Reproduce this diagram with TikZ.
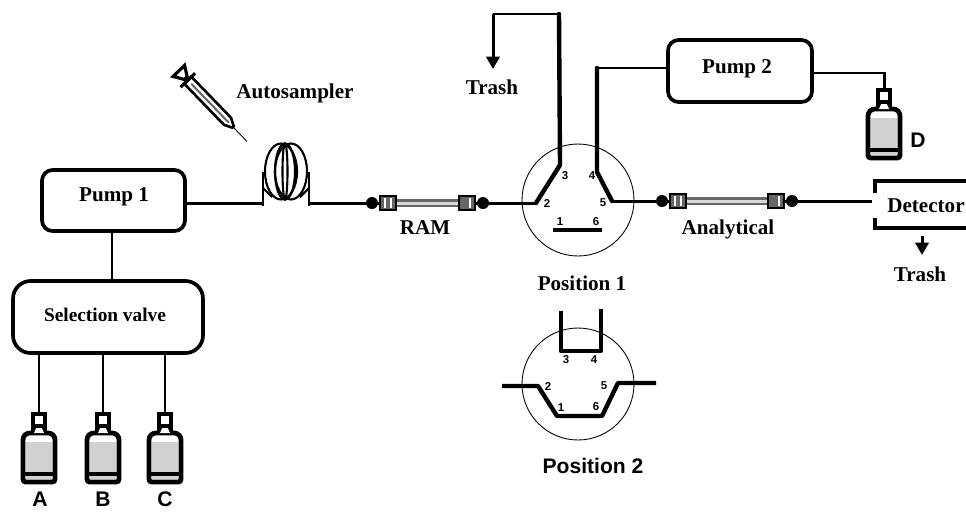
\documentclass[tikz,border=0pt]{standalone}
\usepackage{fontspec}
\setmainfont{Liberation Serif}
\newfontfamily\labelsans{Liberation Sans}
\usetikzlibrary{arrows.meta}
\definecolor{fillgray}{gray}{0.82}
\definecolor{tubegray}{gray}{0.4}
\tikzset{
  pics/bottle/.style={code={
    \fill (-8,14) rectangle (8,21);
    \draw[line width=2.7pt, rounded corners=1.5pt, fill=white] (-16,25) -- (-16,70) -- (16,70) -- (16,25) -- (12,21) -- (-12,21) -- cycle;
    \fill[fillgray] (-13,30) rectangle (13,60);
    \fill (-16,60) rectangle (16,64);
    \fill[fillgray] (-13,64) rectangle (13,67);
    \fill[white] (-2,14) -- (2,14) -- (5,21) -- (-5,21) -- cycle;
    \draw[line width=2.7pt, fill=white] (-6,2) rectangle (6,14);
    \coordinate (-top) at (0,0);
  }},
  pics/column/.style={code={
    \draw[tubegray, line width=4pt] (20,0) -- (#1-20,0);
    \draw[white!85!black, line width=1.7pt] (20,0) -- (#1-20,0);
    \fill (0,0) circle (6);
    \fill (#1,0) circle (6);
    \draw[line width=1.7pt] (0,0) -- (8,0);
    \draw[line width=1.7pt] (#1-8,0) -- (#1,0);
    \draw[line width=.8pt, fill=tubegray] (8,-7) rectangle (24,7);
    \draw[line width=.8pt, fill=tubegray] (#1-24,-7) rectangle (#1-8,7);
    \fill[white] (12,-5) rectangle (14,5);
    \fill[white] (18,-5) rectangle (20,5);
    \fill[white] (#1-14,-5) rectangle (#1-12,5);
    \coordinate (-in) at (0,0);
    \coordinate (-out) at (#1,0);
  }}
}
\begin{document}
\begin{tikzpicture}[x=0.02cm, y=-0.02cm, >={Triangle[length=7pt, width=7.5pt]},
    unit/.style={draw, line width=2.1pt, rounded corners=6pt, inner sep=0pt},
    flow/.style={line width=1.7pt},
    port/.style={line width=2.5pt, line cap=round, line join=round},
    txt/.style={font=\fontsize{12}{14}\selectfont\bfseries},
    sanstxt/.style={font=\fontsize{12}{14}\selectfont\labelsans\bfseries},
    num/.style={font=\fontsize{6.5}{7}\selectfont\labelsans\bfseries, inner sep=0pt}]
  \useasboundingbox (0,0) rectangle (966,511);

  % boxes
  \node[unit, minimum width=2.86cm, minimum height=1.22cm] (pump1) at (113.5,200.5) {};
  \node[unit, rounded corners=10pt, minimum width=3.8cm, minimum height=1.44cm] (selection) at (108,317) {};
  \node[unit, minimum width=2.88cm, minimum height=1.24cm] (pump2) at (740,71) {};
  \node[txt] (pump1text) at (114,197) {Pump 1};
  \node[txt, font=\fontsize{11}{13}\selectfont\bfseries] (selectiontext) at (105,315) {Selection valve};
  \node[txt] (pump2text) at (737,69) {Pump 2};

  % bottles
  \pic (botA) at (39,412) {bottle};
  \pic (botB) at (103,412) {bottle};
  \pic (botC) at (165,412) {bottle};
  \pic (botD) at (884,88) {bottle};
  \node[sanstxt, inner sep=0pt] (labA) at (40,499) {A};
  \node[sanstxt, inner sep=0pt] (labB) at (103,499) {B};
  \node[sanstxt, inner sep=0pt] (labC) at (165,499) {C};
  \node[sanstxt] (labD) at (918,140) {D};
  \draw[flow] (botA-top) -- (botA-top |- selection.south);
  \draw[flow] (botB-top) -- (botB-top |- selection.south);
  \draw[flow] (botC-top) -- (botC-top |- selection.south);
  \draw[flow] (pump1.south -| 112,0) -- (selection.north -| 112,0);

  % coil
  \coordinate (coilin) at (263,203);
  \coordinate (coilout) at (309,203);
  \draw[flow] (pump1.east |- coilin) -- (coilin);
  \draw[line width=1.4pt] (263,206) -- (263,172);
  \draw[line width=1.4pt] (309,206) -- (309,172);
  \draw[line width=1.2pt] (281,171.5) ellipse (16 and 28);
  \draw[line width=1.2pt] (285,171.5) ellipse (10 and 28);
  \draw[line width=1.2pt] (291,171.5) ellipse (16 and 28);
  \draw[line width=1.2pt] (285,171.5) ellipse (2.5 and 28);
  \draw[line width=1.2pt] (263,188) -- (272,197);
  \draw[line width=1.2pt] (309,188) -- (300,197);

  % syringe
  \begin{scope}[shift={(233,127)}, rotate=-46]
    \draw[line width=.5pt] (0,0) -- (20,0);
    \draw[line width=1.5pt, fill=white] (-65,-5) -- (-8,-5) -- (0,-1) -- (0,1) -- (-8,5) -- (-65,5) -- cycle;
    \fill[tubegray] (-60,-1) rectangle (-6,1);
    \draw[line width=1.8pt] (-65,-10) -- (-65,10);
    \draw[line width=1.8pt, fill=white] (-78,-8) -- (-68,-2) -- (-68,2) -- (-78,8) -- cycle;
  \end{scope}
  \node[txt] (autosampler) at (295,93) {Autosampler};

  % columns
  \pic (ram) at (372,203) {column=111};
  \pic (analytical) at (662,201) {column=130};
  \node[txt] (ramtext) at (425,228) {RAM};
  \node[txt] (analyticaltext) at (728,229) {Analytical};
  \draw[flow] (coilout) -- (ram-in);

  % valve position 1
  \node[draw, circle, line width=.5pt, minimum size=2.24cm, inner sep=0pt] (valve1) at (578,200) {};
  \coordinate (p2) at (536,203);
  \coordinate (p3) at (560,165);
  \coordinate (p4) at (597,172);
  \coordinate (p5) at (612,201);
  \coordinate (trashcorner) at (559,14);
  \coordinate (trashbend) at (493,14);
  \coordinate (trashend) at (493,69);
  \coordinate (pumpbend) at (597,68);
  \draw[flow] (ram-out) -- (p2);
  \draw[port] (p2) -- (p3) -- (trashcorner);
  \draw[flow] (trashcorner) -- (trashbend);
  \draw[flow, ->] (trashbend) -- (trashend);
  \draw[port] (p5) -- (p4) -- (pumpbend);
  \draw[flow] (pumpbend) -- (pump2.west |- pumpbend);
  \draw[flow] (p5) -- (analytical-in);
  \draw[flow] (pump2.east |- 0,73) -| (botD-top);
  \draw[line width=2pt] (553,230) -- (602,230);
  \node[num] (n3) at (565,176) {3};
  \node[num] (n4) at (592,176) {4};
  \node[num] (n2) at (547,204) {2};
  \node[num] (n5) at (603,203) {5};
  \node[num] (n1) at (560,222) {1};
  \node[num] (n6) at (596,222) {6};
  \node[txt] (position1) at (582,283) {Position 1};
  \node[txt] (trash1) at (492,87) {Trash};

  % valve position 2
  \node[draw, circle, line width=.5pt, minimum size=2.24cm, inner sep=0pt] (valve2) at (578,384) {};
  \coordinate (q3) at (561,351);
  \coordinate (q4) at (601,351);
  \coordinate (q2) at (538,386);
  \coordinate (q1) at (557,416);
  \coordinate (q6) at (602,416);
  \coordinate (q5) at (618,383);
  \coordinate (qin) at (502,386);
  \coordinate (qout) at (656,383);
  \draw[port, line cap=butt] (561,311) -- (q3) -- (q4) -- (601,309);
  \draw[port, line cap=butt] (qin) -- (q2) -- (q1) -- (q6) -- (q5) -- (qout);
  \node[num] (m3) at (566,360) {3};
  \node[num] (m4) at (594,360) {4};
  \node[num] (m2) at (548,387) {2};
  \node[num] (m5) at (604,386) {5};
  \node[num] (m1) at (561,408) {1};
  \node[num] (m6) at (596,407) {6};
  \node[sanstxt] (position2) at (593,466) {Position 2};

  % detector
  \coordinate (detin) at (872,201);
  \draw[flow] (analytical-out) -- (detin);
  \draw[line width=2.2pt] (966,181) -- (875,181) -- (875,193);
  \draw[line width=2.2pt] (966,228) -- (875,228) -- (875,218);
  \node[txt] (detector) at (926,206) {Detector};
  \coordinate (detarrow) at (922,236);
  \coordinate (detarrowend) at (922,255);
  \draw[flow, ->] (detarrow) -- (detarrowend);
  \node[txt] (trash2) at (920,274) {Trash};
\end{tikzpicture}
\end{document}
